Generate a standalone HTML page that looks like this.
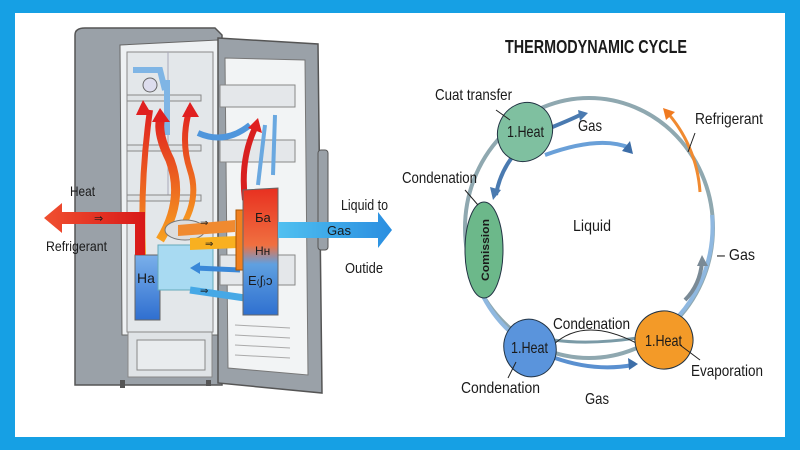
<!DOCTYPE html>
<html><head><meta charset="utf-8"><style>
html,body{margin:0;padding:0;background:#fff}
svg{display:block}
text{font-family:"Liberation Sans",sans-serif;fill:#1a1a1a}
</style></head><body>
<svg width="800" height="450" viewBox="0 0 800 450" xmlns="http://www.w3.org/2000/svg">
<defs>
<linearGradient id="hot" x1="0" y1="1" x2="0" y2="0"><stop offset="0" stop-color="#f7a020"/><stop offset="1" stop-color="#e02020"/></linearGradient>
<linearGradient id="tank" x1="0" y1="0" x2="0" y2="1"><stop offset="0" stop-color="#e83020"/><stop offset="0.45" stop-color="#f07040"/><stop offset="0.6" stop-color="#5fa0e0"/><stop offset="1" stop-color="#2f70d0"/></linearGradient>
<linearGradient id="blu" x1="0" y1="0" x2="0" y2="1"><stop offset="0" stop-color="#7ab0ea"/><stop offset="1" stop-color="#2f6fd0"/></linearGradient>
<linearGradient id="gasar" x1="0" y1="0" x2="1" y2="0"><stop offset="0" stop-color="#50c0f0"/><stop offset="1" stop-color="#2a8ee0"/></linearGradient>
<linearGradient id="heatar" x1="0" y1="0" x2="1" y2="0"><stop offset="0" stop-color="#f05030"/><stop offset="1" stop-color="#d81818"/></linearGradient>
</defs>
<rect width="800" height="450" fill="#16a0e4"/>
<rect x="15" y="13" width="770" height="424" fill="#fff"/>
<path d="M75 155 Q115 160 115 220 Q115 285 75 290 Z" fill="#d6d8da"/>
<path d="M75 35 Q75 28 85 28 L215 28 L222 35 L222 385 L75 385 Z" fill="#9aa1a8" stroke="#555" stroke-width="1.5"/>
<path d="M120 45 L218 40 L218 335 L122 335 Z" fill="#eef1f3" stroke="#666"/>
<rect x="127" y="52" width="86" height="280" fill="#e3e7ea" stroke="#888"/>
<line x1="168" y1="52" x2="168" y2="200" stroke="#aab"/>
<g stroke="#888" fill="#dfe3e6">
<rect x="127" y="95" width="74" height="6"/><rect x="127" y="145" width="74" height="6"/><rect x="127" y="195" width="74" height="6"/>
<rect x="128" y="332" width="84" height="45"/><rect x="137" y="340" width="68" height="30" fill="#e9ecee"/>
</g>
<rect x="120" y="380" width="5" height="8" fill="#555"/><rect x="206" y="380" width="5" height="6" fill="#555"/>
<path d="M218 38 L318 44 L322 393 L218 383 Z" fill="#9aa1a8" stroke="#555" stroke-width="1.5"/>
<path d="M225 58 L305 60 L308 375 L228 368 Z" fill="#f2f4f5" stroke="#777"/>
<g stroke="#888" fill="#e4e7ea"><rect x="220" y="85" width="75" height="22"/><rect x="220" y="140" width="75" height="22"/><rect x="220" y="255" width="75" height="30"/></g>
<g stroke="#aaa"><line x1="235" y1="325" x2="290" y2="328"/><line x1="235" y1="335" x2="290" y2="338"/><line x1="235" y1="345" x2="290" y2="348"/><line x1="235" y1="355" x2="290" y2="358"/></g>
<rect x="318" y="150" width="10" height="100" rx="3" fill="#9aa1a8" stroke="#555"/>
<path d="M133 70 L160 70 L165 90 M167 80 L167 135" stroke="#7fb5e5" stroke-width="6" fill="none"/>
<circle cx="150" cy="85" r="7" fill="#dde" stroke="#666"/>
<g fill="none" stroke-width="6">
<path d="M143 255 Q140 180 150 110" stroke="url(#hot)"/>
<path d="M160 240 Q185 200 170 160 Q155 130 162 115" stroke="url(#hot)" stroke-width="9"/>
<path d="M180 230 Q200 200 190 170 Q180 140 190 108" stroke="url(#hot)"/>
<path d="M245 200 Q240 160 255 128" stroke="#d82020"/>
<path d="M258 185 L265 125" stroke="#6aa8e0" stroke-width="4"/>
<path d="M273 175 L275 115" stroke="#6aa8e0" stroke-width="4"/>
<path d="M198 133 Q225 145 250 125" stroke="#4f96dc"/>
</g>
<polygon points="143,100 152,115 136,115" fill="#e02020"/><polygon points="160,108 170,122 152,122" fill="#e02020"/><polygon points="190,102 199,117 182,117" fill="#e02020"/><polygon points="258,118 262,133 248,128" fill="#e02020"/>
<rect x="135" y="255" width="25" height="65" fill="url(#blu)" stroke="#666"/>
<rect x="158" y="245" width="55" height="45" fill="#a8daf2" stroke="#6ab"/>
<ellipse cx="185" cy="230" rx="20" ry="10" fill="#ddd" stroke="#777"/>
<text x="137" y="283" font-size="14" fill="#123">Ha</text>
<path d="M145 255 L145 212 L62 212 L62 203 L44 218 L62 233 L62 224 L135 224 L135 255 Z" fill="url(#heatar)"/>
<text x="94" y="222" font-size="11" fill="#fff">⇒</text>
<path d="M178 225 L235 220 L235 232 L178 236 Z" fill="#f08a30"/>
<path d="M190 238 L238 236 L238 248 L190 250 Z" fill="#f8b020"/>
<text x="200" y="226" font-size="10" fill="#fff">⇒</text><text x="205" y="247" font-size="10" fill="#fff">⇒</text>
<path d="M195 268 L240 270" stroke="#3a88d8" stroke-width="5"/><polygon points="190,268 200,262 200,274" fill="#3a88d8"/>
<path d="M190 290 L245 298" stroke="#46a8e6" stroke-width="7"/>
<text x="200" y="294" font-size="10" fill="#fff">⇒</text>
<rect x="236" y="210" width="20" height="60" fill="#f08020" stroke="#a50"/>
<path d="M243 190 L278 188 L278 315 L243 315 Z" fill="url(#tank)" stroke="#666"/>
<text x="255" y="222" font-size="13">Ба</text><text x="255" y="255" font-size="12">Hн</text><text x="248" y="285" font-size="13">E₍ʃ₎ɔ</text>
<path d="M278 222 L378 222 L378 212 L392 230 L378 248 L378 238 L278 238 Z" fill="url(#gasar)"/>
<text x="327" y="235" font-size="13" fill="#e8f6ff" textLength="24" lengthAdjust="spacingAndGlyphs">Gas</text>
<text x="70" y="196" font-size="14" textLength="25" lengthAdjust="spacingAndGlyphs">Heat</text>
<text x="46" y="251" font-size="14" textLength="61" lengthAdjust="spacingAndGlyphs">Refrigerant</text>
<text x="341" y="210" font-size="15" textLength="47" lengthAdjust="spacingAndGlyphs">Liquid to</text>
<text x="345" y="273" font-size="15" textLength="38" lengthAdjust="spacingAndGlyphs">Outide</text>

<text x="505" y="53" font-size="18" font-weight="bold" textLength="182" lengthAdjust="spacingAndGlyphs" fill="#111">THERMODYNAMIC CYCLE</text>
<ellipse cx="589" cy="228" rx="124" ry="130" fill="none" stroke="#8fa8b0" stroke-width="4"/>
<path d="M712 215 A124 130 0 0 1 640 345" fill="none" stroke="#8fb8e0" stroke-width="4"/>
<path d="M480 290 A124 130 0 0 0 520 340" fill="none" stroke="#8fb8e0" stroke-width="4"/>
<path d="M700 192 A124 130 0 0 0 665 110" fill="none" stroke="#f08a30" stroke-width="3"/>
<polygon points="663,108 675,112 666,120" fill="#f07a20"/>
<path d="M545 130 Q570 120 580 115" stroke="#4a7ab0" stroke-width="4" fill="none"/><polygon points="578,110 588,113 580,121" fill="#4a7ab0"/>
<path d="M545 155 Q600 135 630 148" stroke="#6aa0d8" stroke-width="4" fill="none"/><polygon points="630,141 633,154 622,151" fill="#3d6ea8"/>
<path d="M518 150 Q500 170 496 195" stroke="#4a7ab0" stroke-width="4" fill="none"/><polygon points="493,200 490,187 501,190" fill="#4a7ab0"/><polygon points="518,147 519,160 510,156" fill="#4a7ab0"/>
<path d="M685 300 Q700 285 702 262" stroke="#7a8a96" stroke-width="4" fill="none"/><polygon points="702,255 708,266 697,266" fill="#7a8a96"/>
<path d="M555 358 Q595 372 633 365" stroke="#5a90d0" stroke-width="4" fill="none"/><polygon points="638,364 628,358 629,370" fill="#3d6ea8"/>
<path d="M553 340 Q590 345 637 338" stroke="#7a9aa6" stroke-width="3" fill="none"/>
<path d="M553 345 Q585 315 640 345" stroke="#222" stroke-width="1" fill="none"/>
<ellipse cx="525" cy="132" rx="27" ry="30" transform="rotate(25 525 132)" fill="#7fc0a0" stroke="#234"/>
<ellipse cx="484" cy="250" rx="19" ry="48" fill="#6cb88a" stroke="#234"/>
<ellipse cx="530" cy="348" rx="26" ry="29" transform="rotate(-15 530 348)" fill="#5a94dc" stroke="#234"/>
<ellipse cx="664" cy="340" rx="29" ry="29" transform="rotate(25 664 340)" fill="#f39a28" stroke="#234"/>
<text x="507" y="137" font-size="16" textLength="37" lengthAdjust="spacingAndGlyphs">1.Heat</text>
<text x="511" y="353" font-size="16" textLength="37" lengthAdjust="spacingAndGlyphs">1.Heat</text>
<text x="645" y="346" font-size="16" textLength="37" lengthAdjust="spacingAndGlyphs">1.Heat</text>
<text transform="translate(489 281) rotate(-90)" font-size="11" font-weight="bold" fill="#123" textLength="62" lengthAdjust="spacingAndGlyphs">Comission</text>
<text x="435" y="100" font-size="16" textLength="77" lengthAdjust="spacingAndGlyphs">Cuat transfer</text>
<line x1="496" y1="110" x2="510" y2="120" stroke="#222"/>
<text x="578" y="131" font-size="16" textLength="24" lengthAdjust="spacingAndGlyphs">Gas</text>
<text x="695" y="124" font-size="16" textLength="68" lengthAdjust="spacingAndGlyphs">Refrigerant</text>
<line x1="695" y1="133" x2="688" y2="152" stroke="#222"/>
<text x="402" y="183" font-size="16" textLength="75" lengthAdjust="spacingAndGlyphs">Condenation</text>
<line x1="465" y1="190" x2="478" y2="205" stroke="#222"/>
<text x="573" y="231" font-size="16" textLength="38" lengthAdjust="spacingAndGlyphs">Liquid</text>
<text x="717" y="260" font-size="16" textLength="38" lengthAdjust="spacingAndGlyphs">– Gas</text>
<text x="553" y="329" font-size="16" textLength="77" lengthAdjust="spacingAndGlyphs">Condenation</text>
<text x="461" y="393" font-size="16" textLength="79" lengthAdjust="spacingAndGlyphs">Condenation</text>
<line x1="508" y1="378" x2="516" y2="362" stroke="#222"/>
<text x="691" y="376" font-size="16" textLength="72" lengthAdjust="spacingAndGlyphs">Evaporation</text>
<line x1="680" y1="345" x2="700" y2="360" stroke="#222"/>
<text x="585" y="404" font-size="16" textLength="24" lengthAdjust="spacingAndGlyphs">Gas</text>
</svg>
</body></html>
